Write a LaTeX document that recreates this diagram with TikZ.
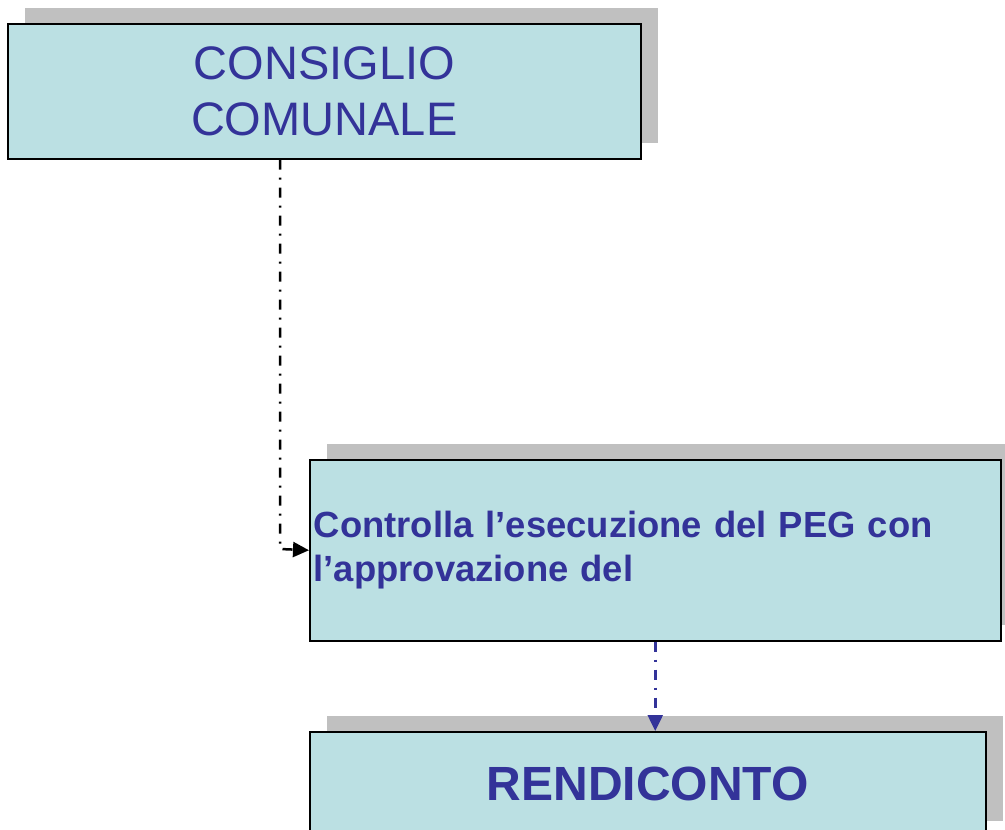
\documentclass[tikz,border=0pt]{standalone}
\usepackage{fontspec}
\setmainfont{Liberation Sans}
\usetikzlibrary{arrows.meta,shadows}
\definecolor{bluetesto}{HTML}{333399}
\definecolor{azzurro}{HTML}{BBE0E3}
\definecolor{grigio}{HTML}{C0C0C0}

\begin{document}
\begin{tikzpicture}[x=1pt,y=-1pt,>={Triangle[length=16pt,width=15pt]},
        riquadro/.style={draw=black,line width=1.5pt,fill=azzurro,text=bluetesto,anchor=north west,
          drop shadow={shadow xshift=17pt,shadow yshift=16pt,fill=grigio,opacity=1}},
        tratteggio/.style={line width=2.5pt,dash pattern=on 10pt off 8pt on 2pt off 8pt}]
        \useasboundingbox (0,0) rectangle (1005,830);
        %
        \node[riquadro,minimum width=633pt,minimum height=135pt,align=center,
          font=\fontsize{47}{56}\selectfont] (consiglio) at (7,23) {CONSIGLIO\\COMUNALE};
        %
        \node[riquadro,minimum width=691pt,minimum height=181pt,inner xsep=4pt,text width=683pt,align=left,
          font=\fontsize{36.4}{44}\selectfont\bfseries] (controllo) at (309,459)
          {Controlla l’esecuzione del PEG con\\l’approvazione del};
        %
        \node[riquadro,minimum width=676pt,minimum height=105pt,
          font=\fontsize{48}{58}\selectfont\bfseries] (rendiconto) at (309,731) {RENDICONTO};
        %
        \coordinate (piega) at (280,549);
        \draw[tratteggio,->] (consiglio.south -| piega) -- (piega) -- (controllo.west);
        \draw[tratteggio,->,bluetesto] (controllo.south) -- (controllo.south |- rendiconto.north);
\end{tikzpicture}
\end{document}
